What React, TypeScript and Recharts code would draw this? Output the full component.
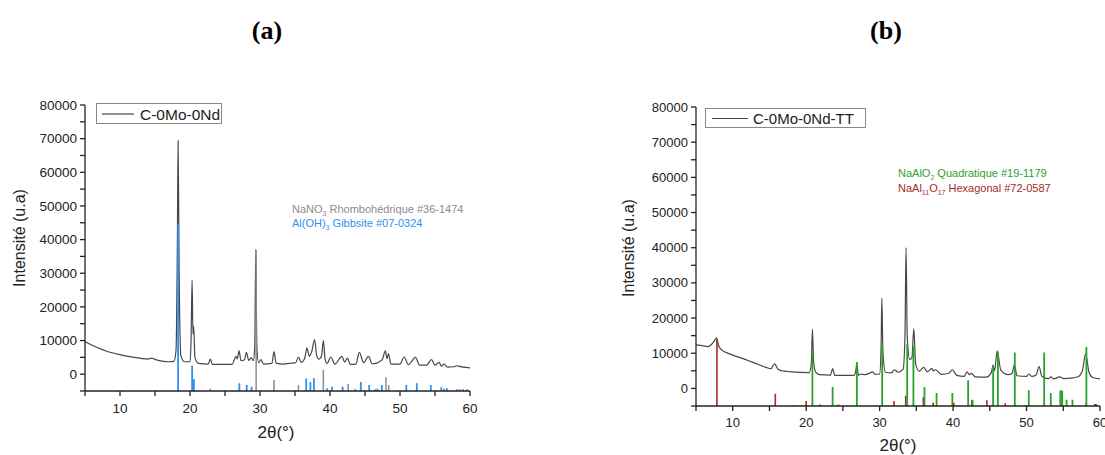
import { LineChart, Line, XAxis, YAxis } from "recharts"

// 2θ axis ticks (labels only on multiples of 10)
const thetaTicks = [5, 10, 15, 20, 25, 30, 35, 40, 45, 50, 55, 60]
const intensityTicks = [
  -5000, 0, 5000, 10000, 15000, 20000, 25000, 30000, 35000, 40000, 45000, 50000, 55000, 60000, 65000, 70000, 75000, 80000,
]

// (a) C-0Mo-0Nd diffractogram, [2θ, intensity]
const curveA: [number, number][] = [
  [5, 9700], [6, 8600], [7, 7700], [8, 6900], [9, 6300], [10, 5800], [11, 5350], [12, 5000], [13, 4700],
  [14, 4500], [14.5, 4800], [15, 4400], [16, 3900], [17, 3700], [17.7, 3800], [18.0, 7000], [18.2, 40000],
  [18.3, 69400], [18.45, 30000], [18.7, 5500], [19.2, 3700], [20.0, 3700], [20.15, 10000], [20.3, 28000],
  [20.42, 12000], [20.52, 14300], [20.7, 5000], [21.2, 3200], [22.6, 3000], [22.9, 4500], [23.2, 2900],
  [26.0, 2900], [26.6, 5300], [26.75, 4500], [27.0, 6900], [27.3, 4000], [27.8, 4300], [28.05, 6500],
  [28.4, 4100], [28.75, 4900], [29.05, 4000], [29.25, 8000], [29.4, 37100], [29.55, 8000], [29.8, 3400],
  [30.15, 4300], [30.5, 3000], [31.7, 3200], [32.0, 6700], [32.3, 3300], [33.3, 3000], [34.2, 3200],
  [34.6, 3300], [35.1, 3400], [35.5, 5100], [35.9, 3500], [36.4, 4800], [36.7, 7800], [37.05, 5300],
  [37.4, 6800], [37.8, 10300], [38.1, 5500], [38.4, 4500], [38.8, 5500], [39.05, 10000], [39.3, 4500],
  [39.6, 3200], [40.1, 5100], [40.7, 3000], [41.7, 5300], [42.1, 3600], [42.5, 4800], [42.9, 2900],
  [43.7, 3000], [44.2, 6500], [44.8, 3400], [45.5, 5300], [46.0, 3100], [46.7, 3300], [47.2, 3900],
  [47.5, 4500], [47.9, 6900], [48.15, 4600], [48.35, 6100], [48.7, 3000], [50.0, 3000], [50.6, 5100],
  [51.2, 2800], [52.2, 5000], [52.8, 2700], [53.8, 2700], [54.5, 4300], [55.0, 2700], [55.6, 3500],
  [55.9, 2400], [56.3, 3000], [56.8, 2100], [57.7, 2200], [58.1, 2500], [58.5, 2300], [59.0, 2100], [60, 1900],
]

// NaNO3 rhombohedral reference lines #36-1474
const nitrateA: [number, number][] = [
  [22.9, -4300], [29.45, 36800], [32.0, -1700], [35.5, -3200], [39.05, 1300], [42.6, -2900], [48.0, -900], [48.4, -3200],
]

// Al(OH)3 gibbsite reference lines #07-0324
const gibbsiteA: [number, number][] = [
  [18.3, 44500], [20.3, 2500], [20.55, -1500], [27.05, -2700], [28.1, -3200], [28.8, -3700], [36.6, -1300],
  [37.2, -2300], [37.7, -1200], [39.6, -4200], [40.3, -3700], [41.8, -3700], [43.6, -4500], [44.4, -2300],
  [45.6, -3200], [46.5, -4500], [46.8, -4300], [47.4, -3200], [50.9, -3200], [52.4, -2700], [54.4, -3200],
  [55.9, -3900], [56.3, -4300], [56.7, -4200], [58.1, -4500], [58.5, -4500], [59.0, -4500], [59.6, -4500],
]

// (b) C-0Mo-0Nd-TT diffractogram
const curveB: [number, number][] = [
  [5, 12400], [6, 12100], [6.6, 11900], [7.1, 12500], [7.5, 13500], [7.8, 14400], [8.1, 12000], [8.6, 10800],
  [9.5, 9900], [10.5, 9100], [11.5, 8400], [12.5, 7600], [13.5, 6800], [14.5, 6000], [15.2, 5600], [15.7, 7000],
  [16.2, 5400], [17, 4900], [18, 4700], [20.4, 4500], [20.7, 7000], [20.85, 16800], [21.0, 8000], [21.3, 4600],
  [21.8, 3900], [23.3, 3800], [23.6, 5600], [23.9, 3700], [26.5, 3700], [26.75, 5000], [26.9, 7000], [27.1, 3800],
  [27.5, 4100], [28.0, 3900], [28.6, 4300], [29.0, 4700], [29.4, 4000], [30.0, 4100], [30.2, 12000], [30.3, 25700],
  [30.45, 10000], [30.8, 4600], [31.6, 4400], [32.0, 5300], [32.5, 4600], [33.2, 5500], [33.45, 15000],
  [33.6, 40000], [33.75, 15000], [34.1, 8200], [34.4, 8800], [34.65, 17000], [34.9, 7000], [35.4, 4900],
  [36.0, 6000], [36.5, 4700], [37.1, 5700], [37.3, 5000], [37.6, 5300], [38.4, 4000], [39.4, 4300], [39.9, 5300],
  [40.5, 3700], [41.5, 3400], [41.9, 4700], [42.2, 3900], [42.5, 4300], [43.0, 3300], [44.5, 3200], [45.2, 4500],
  [45.45, 6600], [45.65, 5000], [46.0, 10700], [46.5, 5200], [47.5, 3900], [48.0, 4200], [48.35, 6700],
  [48.7, 3600], [50.0, 3400], [50.3, 4100], [50.7, 3400], [51.3, 3800], [51.7, 6200], [52.1, 3400], [53.0, 2800],
  [53.3, 3300], [53.7, 2700], [54.5, 3300], [55.1, 2800], [56.0, 2900], [57.0, 3300], [57.6, 5000],
  [58.05, 9900], [58.5, 4600], [59.0, 3100], [60, 2700],
]

// NaAlO2 tetragonal reference lines #19-1179
const aluminateB: [number, number][] = [
  [20.85, 11100], [23.6, 400], [26.9, 7500], [30.35, 12700], [33.75, 12700], [34.6, 12000], [36.1, 400],
  [37.75, -1300], [39.9, -1300], [42.05, 2300], [42.65, -3200], [45.45, 6600], [46.1, 10400], [48.4, 10200],
  [50.3, -500], [52.4, 10200], [53.3, -1300], [54.6, -600], [54.85, -600], [55.45, -3200], [56.25, -3200],
  [58.15, 11800],
]

// NaAl11O17 hexagonal reference lines #72-0587
const betaAluminaB: [number, number][] = [
  [7.85, 14000], [15.8, -1500], [18.4, -4700], [20.0, -3600], [21.9, -4600], [24.4, -4600], [31.95, -3600],
  [33.55, -2100], [35.95, -2500], [37.3, -4000], [40.1, -4100], [42.55, -3400], [44.6, -3400], [47.1, -4200],
  [49.8, -4700], [58.1, -4200], [59.3, -4400], [59.5, -4500],
]

const BASE = -5000
const FONT = "'Liberation Sans', Arial, sans-serif"

function toSticks(lines: [number, number][]) {
  const out: { x: number; y: number | null }[] = []
  for (const [x, h] of lines) {
    out.push({ x, y: BASE }, { x, y: h }, { x, y: null })
  }
  return out
}

const toPoints = (pts: [number, number][]) => pts.map(([x, y]) => ({ x, y }))

interface PanelProps {
  left: number
  width: number
  margin: { top: number; right: number; bottom: number; left: number }
  fontSize: number
  curve: [number, number][]
  refs: { lines: [number, number][]; color: string; width: number }[]
}

function Panel({ left, width, margin, fontSize, curve, refs }: PanelProps) {
  const axisStyle = { stroke: "#222", strokeWidth: 1.3 }
  return (
    <div style={{ position: "absolute", left, top: 0 }}>
      <LineChart width={width} height={455} margin={margin}>
        <XAxis
          dataKey="x"
          type="number"
          domain={[5, 60]}
          ticks={thetaTicks}
          interval={0}
          allowDataOverflow
          height={30}
          tickSize={5}
          tickMargin={7}
          axisLine={axisStyle}
          tickLine={axisStyle}
          tick={{ fill: "#222", fontSize, fontFamily: FONT }}
          tickFormatter={(v: number) => (v % 10 === 0 ? String(v) : "")}
        />
        <YAxis
          type="number"
          domain={[BASE, 80000]}
          ticks={intensityTicks}
          interval={0}
          allowDataOverflow
          width={70}
          tickSize={5}
          tickMargin={3}
          axisLine={axisStyle}
          tickLine={axisStyle}
          tick={{ fill: "#222", fontSize, fontFamily: FONT }}
          tickFormatter={(v: number) => (v >= 0 && v % 10000 === 0 ? String(v) : "")}
        />
        <Line
          data={toPoints(curve)}
          dataKey="y"
          type="monotone"
          stroke="#474747"
          strokeWidth={1.2}
          dot={false}
          isAnimationActive={false}
        />
        {refs.map((r, i) => (
          <Line
            key={i}
            data={toSticks(r.lines)}
            dataKey="y"
            type="linear"
            stroke={r.color}
            strokeWidth={r.width}
            dot={false}
            connectNulls={false}
            isAnimationActive={false}
          />
        ))}
      </LineChart>
    </div>
  )
}

export default function App() {
  return (
    <div style={{ position: "absolute", left: 0, top: 0, width: 1105, height: 455, background: "#fff" }}>
      <Panel
        left={0}
        width={480}
        margin={{ top: 105, right: 10, bottom: 34, left: 15 }}
        fontSize={13.5}
        curve={curveA}
        refs={[
          { lines: nitrateA, color: "#8c8c8c", width: 1.5 },
          { lines: gibbsiteA, color: "#2f8ff2", width: 1.8 },
        ]}
      />
      <Panel
        left={610}
        width={495}
        margin={{ top: 107, right: 5, bottom: 19, left: 16 }}
        fontSize={13}
        curve={curveB}
        refs={[
          { lines: betaAluminaB, color: "#a32a2a", width: 1.6 },
          { lines: aluminateB, color: "#2ca02c", width: 1.8 },
        ]}
      />
      <svg
        width={1105}
        height={455}
        style={{ position: "absolute", left: 0, top: 0, pointerEvents: "none", whiteSpace: "pre" }}
        fontFamily={FONT}
      >
        {/* panel titles */}
        <text x={267} y={39} textAnchor="middle" fontFamily="'Liberation Serif', 'Times New Roman', serif" fontWeight="bold" fontSize={26}>
          (a)
        </text>
        <text x={886} y={39} textAnchor="middle" fontFamily="'Liberation Serif', 'Times New Roman', serif" fontWeight="bold" fontSize={26}>
          (b)
        </text>

        {/* axis titles */}
        <text x={19} y={238} dy="0.35em" textAnchor="middle" fontSize={16} fill="#222" transform="rotate(-90 19 238)">
          Intensité (u.a)
        </text>
        <text x={628} y={248} dy="0.35em" textAnchor="middle" fontSize={16} fill="#222" transform="rotate(-90 628 248)">
          Intensité (u.a)
        </text>
        <text x={276} y={438} textAnchor="middle" fontSize={17} fill="#222">2θ(°)</text>
        <text x={898} y={451} textAnchor="middle" fontSize={17} fill="#222">2θ(°)</text>

        {/* legends */}
        <rect x={96.5} y={103.5} width={125} height={20} fill="#fff" stroke="#888" />
        <line x1={102} x2={134} y1={114} y2={114} stroke="#474747" strokeWidth={1.2} />
        <text x={140} y={119.5} fontSize={15.5} fill="#222">C-0Mo-0Nd</text>
        <rect x={705.5} y={108.5} width={160} height={19} fill="#fff" stroke="#888" />
        <line x1={712} x2={748} y1={118.5} y2={118.5} stroke="#474747" strokeWidth={1.2} />
        <text x={753} y={123.5} fontSize={15} fill="#222">C-0Mo-0Nd-TT</text>

        {/* reference card annotations */}
        <text x={292} y={213} fontSize={11} fill="#8c8c8c">
          NaNO<tspan dy={3} fontSize={7}>3</tspan>
          <tspan dy={-3}>{"  Rhombohédrique #36-1474"}</tspan>
        </text>
        <text x={292} y={227} fontSize={11} fill="#2f8ff2">
          Al(OH)<tspan dy={3} fontSize={7}>3</tspan>
          <tspan dy={-3}>{" Gibbsite  #07-0324"}</tspan>
        </text>
        <text x={898} y={177} fontSize={11} fill="#2ca02c">
          NaAlO<tspan dy={3} fontSize={7}>2</tspan>
          <tspan dy={-3}>{"  Quadratique #19-1179"}</tspan>
        </text>
        <text x={898} y={192} fontSize={11} fill="#a32a2a">
          NaAl<tspan dy={3} fontSize={7}>11</tspan>
          <tspan dy={-3}>O</tspan>
          <tspan dy={3} fontSize={7}>17</tspan>
          <tspan dy={-3}>{" Hexagonal #72-0587"}</tspan>
        </text>
      </svg>
    </div>
  )
}
